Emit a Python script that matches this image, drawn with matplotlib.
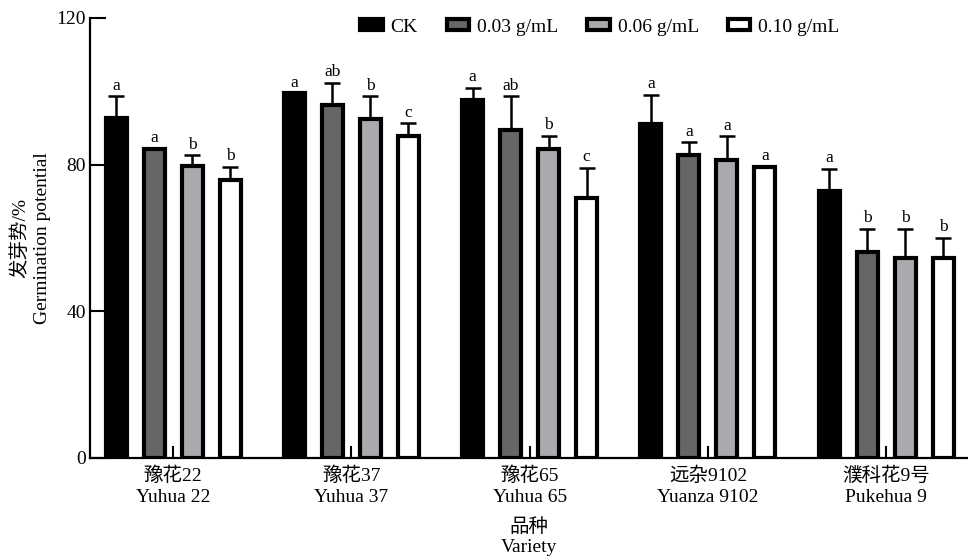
import numpy as np
import matplotlib
matplotlib.use('Agg')
import matplotlib.pyplot as plt

plt.rcParams['font.family'] = ['Liberation Serif', 'Noto Sans CJK SC']

# varieties (two-line tick labels)
varieties = ['豫花22\nYuhua 22', '豫花37\nYuhua 37', '豫花65\nYuhua 65',
             '远杂9102\nYuanza 9102', '濮科花9号\nPukehua 9']
treatments = ['CK', '0.03 g/mL', '0.06 g/mL', '0.10 g/mL']
colors = ['#000000', '#666666', '#aaa9ae', '#ffffff']

# germination potential (%) per treatment, one value per variety
ck = [92.7, 99.5, 97.6, 91.0, 72.7]
c003 = [84.4, 96.2, 89.5, 82.6, 56.1]
c006 = [79.6, 92.4, 84.4, 81.4, 54.5]
c010 = [75.9, 87.8, 71.0, 79.5, 54.5]

# upper error (SE)
ck_err = [6.0, 0.0, 3.4, 8.0, 6.1]
c003_err = [0.0, 6.1, 9.2, 3.5, 6.4]
c006_err = [3.0, 6.3, 3.5, 6.3, 8.0]
c010_err = [3.5, 3.5, 8.2, 0.0, 5.5]

# significance letters
ck_sig = ['a', 'a', 'a', 'a', 'a']
c003_sig = ['a', 'ab', 'ab', 'a', 'b']
c006_sig = ['b', 'b', 'b', 'a', 'b']
c010_sig = ['b', 'c', 'c', 'a', 'b']

values = [ck, c003, c006, c010]
errors = [ck_err, c003_err, c006_err, c010_err]
sigs = [ck_sig, c003_sig, c006_sig, c010_sig]

fig = plt.figure(figsize=(9.68, 5.6), dpi=100)
ax = fig.add_axes([90 / 968, 102 / 560, 878 / 968, 440 / 560])

x = np.arange(len(varieties))
pitch = 0.213
width = 0.118
offsets = (np.arange(4) - 1.5) * pitch

for i in range(4):
    vals = np.array(values[i])
    errs = np.array(errors[i])
    xs = x + offsets[i]
    ax.bar(xs, vals, width, color=colors[i], edgecolor='black',
           linewidth=3, label=treatments[i], zorder=2)
    ax.errorbar(xs, vals, yerr=[np.zeros_like(errs), errs], fmt='none',
                ecolor='black', elinewidth=1.8, capsize=5.5, capthick=1.8,
                zorder=1)
    for xi, v, e, s in zip(xs, vals, errs, sigs[i]):
        ax.text(xi, v + e + 1.8, s, ha='center', va='baseline', fontsize=12.5)

ax.set_xlim(-0.466, 4.459)
ax.set_ylim(0, 120)
ax.set_yticks([0, 40, 80, 120])
ax.set_xticks(x)
ax.set_xticklabels(varieties, fontsize=14, linespacing=1.35)
ax.tick_params(axis='y', direction='in', length=11.5, width=1.5,
               labelsize=14, pad=3)
ax.tick_params(axis='x', direction='in', length=8.5, width=1.5, pad=6)
for side in ['top', 'right']:
    ax.spines[side].set_visible(False)
for side in ['left', 'bottom']:
    ax.spines[side].set_linewidth(1.6)

fig.text(31 / 968, 1 - 238 / 560, '发芽势/%\nGermination potential',
         rotation=90, ha='center', va='center', fontsize=14,
         multialignment='center', linespacing=1.35)
fig.text(529 / 968, 1 - 537 / 560, '品种\nVariety', ha='center',
         va='center', fontsize=14, linespacing=1.25)

fig.legend(loc='center', bbox_to_anchor=(600 / 968, 1 - 27 / 560),
           ncol=4, frameon=False, fontsize=14, handlelength=1.15,
           handleheight=0.5, handletextpad=0.4, columnspacing=1.5,
           borderpad=0)

fig.savefig('out.png', dpi=100)
